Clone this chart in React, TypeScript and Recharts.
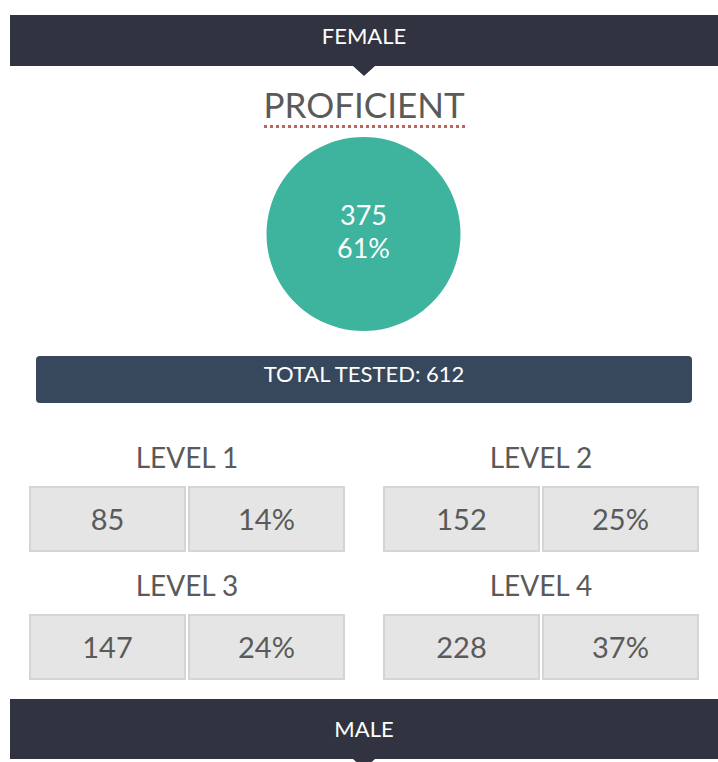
import React from "react";
import { PieChart, Pie, Cell } from "recharts";

const groups = ["FEMALE", "MALE"];
const proficientLabel = "PROFICIENT";
const proficientCounts = [375];
const proficientPercents = [61];
const totalTested = 612;

const levelNames = ["LEVEL 1", "LEVEL 2", "LEVEL 3", "LEVEL 4"];
const levelCounts = [85, 152, 147, 228];
const levelPercents = [14, 25, 24, 37];

const FONT = "Lato, 'Open Sans', sans-serif";
const TEXT_GRAY = "#5a5a5a";
const BANNER = "#313440";

function Banner({ label, top, height, textTop }: { label: string; top: number; height: number; textTop: number }) {
  return (
    <div
      style={{
        position: "absolute",
        left: 10,
        top,
        width: 708,
        height,
        background: BANNER,
        color: "#fff",
      }}
    >
      <div
        style={{
          position: "absolute",
          left: 0,
          width: 708,
          top: textTop - 14,
          fontSize: 22,
          lineHeight: "28px",
          textAlign: "center",
        }}
      >
        {label}
      </div>
      <div
        style={{
          position: "absolute",
          left: 354 - 11,
          top: height,
          width: 0,
          height: 0,
          borderLeft: "11px solid transparent",
          borderRight: "11px solid transparent",
          borderTop: `10px solid ${BANNER}`,
        }}
      />
    </div>
  );
}

function LevelBlock({ index, left, top }: { index: number; left: number; top: number }) {
  const cell: React.CSSProperties = {
    position: "absolute",
    top: top + 29,
    width: 157,
    height: 66,
    boxSizing: "border-box",
    background: "#e5e5e5",
    border: "2px solid #d5d5d5",
    fontSize: 29,
    lineHeight: "62px",
    textAlign: "center",
    color: TEXT_GRAY,
  };
  return (
    <>
      <div
        style={{
          position: "absolute",
          left,
          top: top - 17,
          width: 316,
          fontSize: 28,
          lineHeight: "34px",
          textAlign: "center",
          color: TEXT_GRAY,
        }}
      >
        {levelNames[index]}
      </div>
      <div style={{ ...cell, left }}>{levelCounts[index]}</div>
      <div style={{ ...cell, left: left + 159 }}>{levelPercents[index]}%</div>
    </>
  );
}

export default function App() {
  const pieData = proficientCounts.map((v, i) => ({
    name: proficientLabel,
    value: v,
    pct: proficientPercents[i],
  }));

  const renderLabel = (props: any) => {
    const { cx, cy } = props;
    return (
      <g>
        <text x={cx} y={cy - 20} fill="#fff" fontSize={27} fontFamily={FONT} textAnchor="middle" dominantBaseline="central">
          {proficientCounts[0]}
        </text>
        <text x={cx} y={cy + 13} fill="#fff" fontSize={27} fontFamily={FONT} textAnchor="middle" dominantBaseline="central">
          {proficientPercents[0]}%
        </text>
      </g>
    );
  };

  return (
    <div
      style={{
        position: "absolute",
        left: 0,
        top: 0,
        width: 718,
        height: 762,
        overflow: "hidden",
        background: "#fff",
        fontFamily: FONT,
      }}
    >
      <Banner label={groups[0]} top={15} height={51} textTop={21} />

      <div
        style={{
          position: "absolute",
          left: 0,
          width: 728,
          top: 83,
          textAlign: "center",
          fontSize: 35,
          lineHeight: "42px",
          color: TEXT_GRAY,
        }}
      >
        {proficientLabel}
      </div>
      <div
        style={{
          position: "absolute",
          left: 264,
          top: 125,
          width: 201,
          height: 3,
          background: "repeating-linear-gradient(to right, #c0635a 0px, #c0635a 3.5px, transparent 3.5px, transparent 6px)",
        }}
      />

      <div style={{ position: "absolute", left: 0, top: 0 }}>
        <PieChart width={718} height={340} margin={{ top: 0, right: 0, bottom: 0, left: 0 }}>
          <Pie
            data={pieData}
            dataKey="value"
            cx={363.5}
            cy={234}
            outerRadius={97}
            startAngle={90}
            endAngle={-270}
            stroke="none"
            label={renderLabel}
            labelLine={false}
            isAnimationActive={false}
          >
            {pieData.map((d) => (
              <Cell key={d.name} fill="#3eb49e" />
            ))}
          </Pie>
        </PieChart>
      </div>

      <div
        style={{
          position: "absolute",
          left: 36,
          top: 356,
          width: 656,
          height: 47,
          borderRadius: 4,
          background: "#37485d",
          color: "#fff",
          fontSize: 22,
          lineHeight: "36px",
          textAlign: "center",
        }}
      >
        TOTAL TESTED: {totalTested}
      </div>

      <LevelBlock index={0} left={29} top={457} />
      <LevelBlock index={1} left={383} top={457} />
      <LevelBlock index={2} left={29} top={585} />
      <LevelBlock index={3} left={383} top={585} />

      <Banner label={groups[1]} top={699} height={60} textTop={30} />
    </div>
  );
}
